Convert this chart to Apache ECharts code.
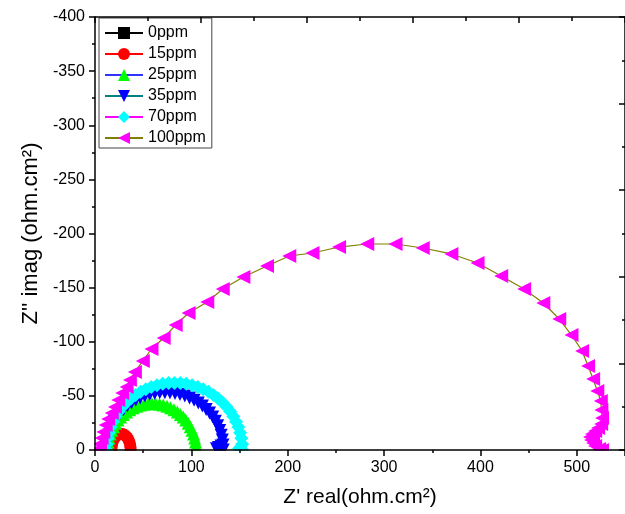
<!DOCTYPE html>
<html>
<head>
<meta charset="utf-8">
<script src="https://cdn.jsdelivr.net/npm/echarts@6/dist/echarts.min.js"></script>
<style>
  html, body { margin: 0; padding: 0; background: #ffffff; }
  #chart { width: 625px; height: 514px; }
</style>
</head>
<body>
<div id="chart"></div>
<script>
// Nyquist plots: Z' real vs Z'' imag for each inhibitor concentration
const seriesNames = ['0ppm', '15ppm', '25ppm', '35ppm', '70ppm', '100ppm'];

const ppm0 = [[10.5, 0], [11, -1.4], [11.8, -2.1], [12.5, -1.3], [13, -0.2]];

const ppm15 = [
  [17.0, 0], [17.2, -2.6], [17.6, -5.1], [18.3, -7.5], [19.3, -9.6], [20.6, -11.5],
  [22.0, -13.0], [23.6, -14.1], [25.3, -14.8], [27.0, -15.0], [28.7, -14.8], [30.4, -14.1],
  [32.0, -13.0], [33.4, -11.5], [34.7, -9.6], [35.7, -7.5], [36.4, -5.1], [36.8, -2.6], [37.0, 0]
];

const ppm25 = [
  [13.0, 0], [13.2, -3.7], [13.7, -7.5], [14.6, -11.1], [15.8, -14.7], [17.3, -18.2],
  [19.2, -21.5], [21.3, -24.7], [23.8, -27.6], [26.5, -30.4], [29.4, -32.9], [32.6, -35.2],
  [36.0, -37.2], [39.6, -39.0], [43.3, -40.4], [47.1, -41.5], [51.0, -42.3], [55.0, -42.8],
  [59.0, -43.0], [63.0, -42.8], [67.0, -42.3], [70.9, -41.5], [74.7, -40.4], [78.4, -39.0],
  [82.0, -37.2], [85.4, -35.2], [88.6, -32.9], [91.5, -30.4], [94.2, -27.6], [96.7, -24.7],
  [98.8, -21.5], [100.7, -18.2], [102.2, -14.7], [103.4, -11.1], [104.3, -7.5], [104.8, -3.7], [105.0, 0]
];

const ppm35 = [
  [12.0, 0], [12.2, -4.6], [12.9, -9.2], [14.1, -13.7], [15.6, -18.1], [17.7, -22.4],
  [20.1, -26.5], [22.9, -30.4], [26.2, -34.1], [29.7, -37.5], [33.6, -40.6], [37.8, -43.4],
  [42.3, -45.9], [46.9, -48.0], [51.8, -49.8], [56.8, -51.2], [62.0, -52.2], [67.2, -52.8],
  [72.5, -53.0], [77.8, -52.8], [83.0, -52.2], [88.2, -51.2], [93.2, -49.8], [98.1, -48.0],
  [102.8, -45.9], [107.2, -43.4], [111.4, -40.6], [115.3, -37.5], [118.8, -34.1], [122.1, -30.4],
  [124.9, -26.5], [127.3, -22.4], [129.4, -18.1], [130.9, -13.7], [132.1, -9.2], [132.8, -4.6],
  [133.0, 0], [130.8, -3.6], [128.2, -2.4], [126.0, -1.2]
];

const ppm70 = [
  [12.0, 0], [12.3, -5.4], [13.1, -10.8], [14.4, -16.0], [16.2, -21.2], [18.6, -26.2],
  [21.4, -31.0], [24.7, -35.6], [28.5, -39.9], [32.6, -43.8], [37.2, -47.5], [42.1, -50.8],
  [47.2, -53.7], [52.7, -56.2], [58.4, -58.3], [64.3, -59.9], [70.3, -61.1], [76.4, -61.8],
  [82.5, -62.0], [88.6, -61.8], [94.7, -61.1], [100.7, -59.9], [106.6, -58.3], [112.3, -56.2],
  [117.8, -53.7], [122.9, -50.8], [127.8, -47.5], [132.4, -43.8], [136.5, -39.9], [140.3, -35.6],
  [143.6, -31.0], [146.4, -26.2], [148.8, -21.2], [150.6, -16.0], [151.9, -10.8], [152.7, -5.4],
  [153.0, 0], [149.5, -1.5]
];

const ppm100 = [
  [3.1, -0.9], [5.2, -5.5], [6.9, -11.1], [8.6, -16.6], [11.1, -23.1], [13.7, -28.6],
  [17.3, -34.2], [20.7, -39.7], [24.1, -46.2], [28.2, -52.7], [32.8, -58.2], [36.2, -64.7],
  [41.4, -72.1], [49.6, -82.2], [58.6, -93.3], [71.3, -103.5], [83.7, -115.5], [97.1, -126.6],
  [116.5, -136.7], [132.6, -148.7], [154.0, -159.8], [178.5, -170.0], [201.6, -179.2], [225.7, -182.0],
  [253.3, -187.5], [282.5, -190.3], [311.9, -190.3], [340.1, -186.6], [369.8, -181.1], [397.0, -172.7],
  [421.5, -160.7], [445.3, -148.7], [465.2, -135.8], [481.8, -121.0], [494.5, -106.2], [505.5, -91.5],
  [511.7, -77.6], [516.9, -65.6], [521.3, -54.5], [524.9, -45.3], [525.5, -37.0], [526.2, -29.6],
  [525.2, -24.0], [522.1, -20.3], [519.0, -17.6], [515.8, -14.8], [513.7, -12.0], [514.8, -9.2],
  [516.9, -6.5], [519.0, -3.7], [523.1, -0.9], [526.2, 0]
];

const seriesData = [ppm0, ppm15, ppm25, ppm35, ppm70, ppm100];
const markerColors = ['#000000', '#ff0000', '#00ff00', '#0000ff', '#00ffff', '#ff00ff'];
const lineColors = ['#000000', '#ff0000', '#3333ff', '#008080', '#ff00ff', '#808000'];
const markerShapes = [
  'rect',
  'circle',
  'triangle',
  'path://M0,0L10,0L5,10Z',
  'diamond',
  'path://M0,5L10,0L10,10Z'
];
const markerSizes = [10, 12, 13, 13, 14, 14];

const FONT = "'Liberation Sans', Arial, sans-serif";
const AX = { color: '#000000', width: 1.5 };

const chart = echarts.init(document.getElementById('chart'), null, { renderer: 'canvas' });

chart.setOption({
  animation: false,
  backgroundColor: '#ffffff',
  textStyle: { fontFamily: FONT },
  grid: { left: 95, top: 17, width: 532, height: 433 },
  legend: {
    data: seriesNames,
    orient: 'vertical',
    left: 99,
    top: 18,
    itemWidth: 38,
    itemHeight: 15,
    itemGap: 5,
    padding: [7, 6, 2, 5],
    borderColor: '#444444',
    borderWidth: 1,
    selectedMode: false,
    textStyle: { fontSize: 16, color: '#000000', fontFamily: FONT }
  },
  xAxis: [
    {
      type: 'value', position: 'bottom', min: 0, max: 550, interval: 100, z: 10,
      axisLine: { show: true, onZero: false, lineStyle: AX },
      axisTick: { show: true, inside: false, length: 6, lineStyle: AX },
      minorTick: { show: true, splitNumber: 2, length: 3, lineStyle: AX },
      splitLine: { show: false },
      axisLabel: { color: '#000000', fontSize: 16, fontFamily: FONT, margin: 10, showMaxLabel: false },
      name: "Z' real(ohm.cm²)", nameLocation: 'middle', nameGap: 37,
      nameTextStyle: { fontSize: 21, color: '#000000', fontFamily: FONT }
    },
    {
      type: 'value', position: 'top', min: 0, max: 10, interval: 2, z: 10,
      axisLine: { show: true, onZero: false, lineStyle: AX },
      axisTick: { show: true, inside: true, length: 6, lineStyle: AX },
      minorTick: { show: true, splitNumber: 2, length: 4, lineStyle: AX },
      splitLine: { show: false },
      axisLabel: { show: false }
    }
  ],
  yAxis: [
    {
      type: 'value', position: 'left', min: -400, max: 0, interval: 50, inverse: true, z: 10,
      axisLine: { show: true, onZero: false, lineStyle: AX },
      axisTick: { show: true, inside: false, length: 6, lineStyle: AX },
      minorTick: { show: true, splitNumber: 2, length: 3, lineStyle: AX },
      splitLine: { show: false },
      axisLabel: { color: '#000000', fontSize: 16, fontFamily: FONT, margin: 10 },
      name: "Z'' imag (ohm.cm²)", nameLocation: 'middle', nameGap: 52, nameRotate: 90,
      nameTextStyle: { fontSize: 22, color: '#000000', fontFamily: FONT }
    },
    {
      type: 'value', position: 'right', min: 0, max: 10, interval: 2, z: 10,
      axisLine: { show: true, onZero: false, lineStyle: AX },
      axisTick: { show: true, inside: true, length: 6, lineStyle: AX },
      minorTick: { show: true, splitNumber: 2, length: 3, lineStyle: AX },
      splitLine: { show: false },
      axisLabel: { show: false }
    }
  ],
  // white strips just outside the plot frame so markers stop at the axes
  graphic: [
    { type: 'rect', silent: true, z: 5, shape: { x: 95, y: 450.8, width: 540, height: 9 }, style: { fill: '#ffffff' } },
    { type: 'rect', silent: true, z: 5, shape: { x: 86, y: 8, width: 8.2, height: 452 }, style: { fill: '#ffffff' } }
  ],
  series: seriesNames.map((name, i) => ({
    name: name,
    type: 'line',
    xAxisIndex: 0,
    yAxisIndex: 0,
    data: seriesData[i],
    symbol: markerShapes[i],
    symbolSize: markerSizes[i],
    showSymbol: true,
    showAllSymbol: true,
    clip: false,
    itemStyle: { color: markerColors[i] },
    lineStyle: { color: lineColors[i], width: 1.2 },
    emphasis: { disabled: true },
    z: 2
  }))
});
</script>
</body>
</html>
